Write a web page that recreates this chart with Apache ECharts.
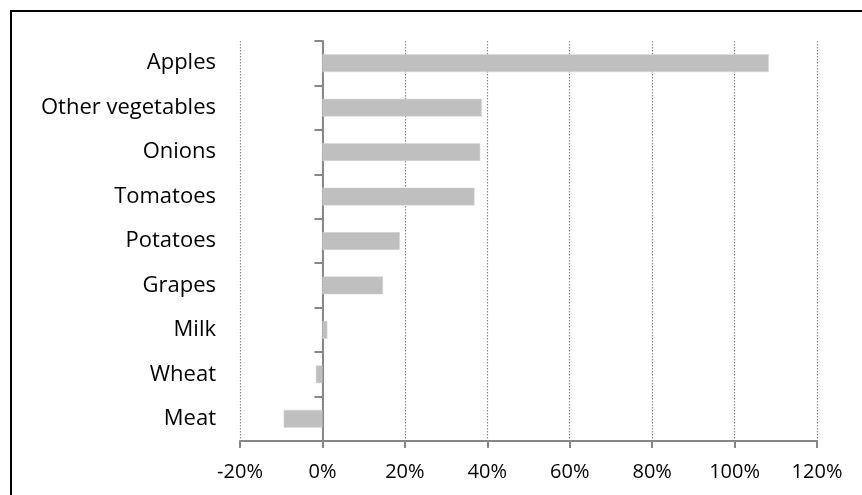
<!DOCTYPE html>
<html><head><meta charset="utf-8">
<script src="https://cdn.jsdelivr.net/npm/echarts@6/dist/echarts.min.js"></script>
<style>html,body{margin:0;padding:0;background:#fff}#c{width:862px;height:495px}</style>
</head><body><div id="c"></div>
<script>
const categories = ["Apples","Other vegetables","Onions","Tomatoes","Potatoes","Grapes","Milk","Wheat","Meat"];
const values = [108.3, 38.7, 38.3, 36.9, 18.8, 14.7, 1.2, -1.6, -9.4];
const xMin = -20, xMax = 120, xStep = 20;

const chart = echarts.init(document.getElementById('c'), null, {renderer:'canvas'});
const font = '"Open Sans", "Liberation Sans", sans-serif';
chart.setOption({
  animation:false,
  backgroundColor:'#fff',
  graphic:[{type:'rect', shape:{x:11,y:11,width:900,height:600}, style:{fill:'none',stroke:'#000',lineWidth:2}, silent:true}],
  grid:{left:240,right:45,top:41,bottom:54,containLabel:false,outerBoundsMode:'none'},
  xAxis:{type:'value',min:xMin,max:xMax,interval:xStep,
    axisLine:{show:true,onZero:false,lineStyle:{color:'#878787',width:2}},
    axisTick:{show:true,length:7,lineStyle:{color:'#878787',width:2}},
    axisLabel:{formatter:v=>v+'%',color:'#000',fontSize:20,fontFamily:font,margin:21},
    splitLine:{show:true,lineStyle:{color:'#8a8a8a',width:1.2,type:[1.5,1.5]}}},
  yAxis:{type:'category',data:categories,inverse:true,
    axisLine:{show:true,onZero:true,lineStyle:{color:'#878787',width:2}},
    axisTick:{show:true,length:8,lineStyle:{color:'#878787',width:2}},
    axisLabel:{color:'#000',fontSize:22,fontFamily:font,margin:24},
    splitLine:{show:false}},
  series:[{type:'bar',data:values,barCategoryGap:'60%',
    itemStyle:{color:'#bfbfbf',borderColor:'#d9d9d9',borderWidth:0.5},z:1}]
});
</script></body></html>
